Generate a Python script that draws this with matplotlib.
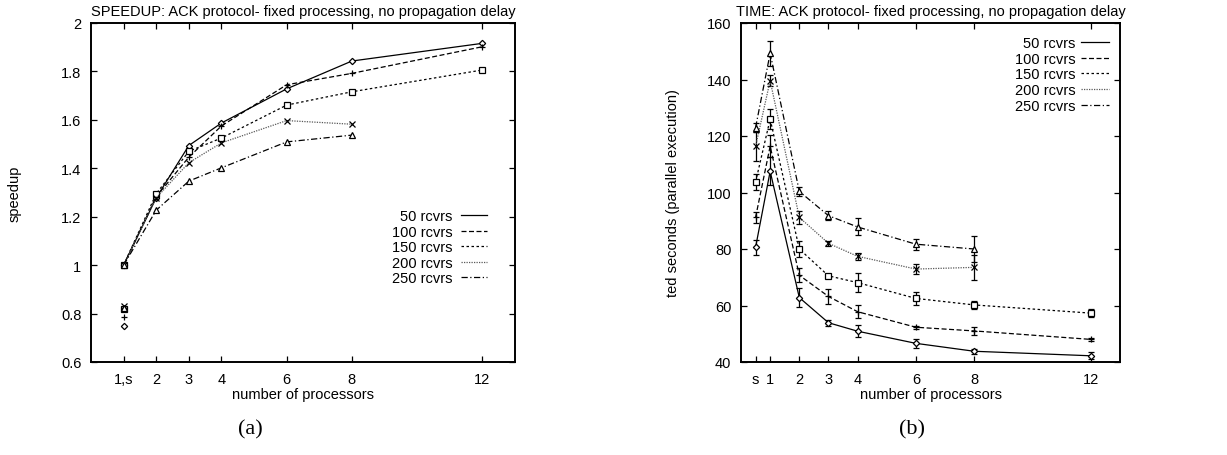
import matplotlib
matplotlib.use("Agg")
import matplotlib.pyplot as plt
from matplotlib.lines import Line2D

plt.rcParams['font.family'] = ['Liberation Sans', 'DejaVu Sans']
plt.rcParams['font.size'] = 10.5

series_labels = ["50 rcvrs", "100 rcvrs", "150 rcvrs", "200 rcvrs", "250 rcvrs"]

# ---- (a) speedup ----
speed_x = [1, 2, 3, 4, 6, 8, 12]
speed_x_short = [1, 2, 3, 4, 6, 8]
speed_50 = [1.0, 1.278, 1.494, 1.587, 1.728, 1.843, 1.916]
speed_100 = [1.0, 1.283, 1.446, 1.575, 1.745, 1.792, 1.902]
speed_150 = [1.0, 1.295, 1.470, 1.525, 1.661, 1.716, 1.806]
speed_200 = [1.0, 1.278, 1.423, 1.505, 1.597, 1.582]
speed_250 = [1.0, 1.227, 1.347, 1.402, 1.509, 1.537]
speed_p1 = [0.750, 0.785, 0.820, 0.830, 0.825]   # parallel 1-proc vs sequential
speed_xticks = [1, 2, 3, 4, 6, 8, 12]
speed_xticklabels = ["1,s", "2", "3", "4", "6", "8", "12"]
speed_yticks = [0.6, 0.8, 1.0, 1.2, 1.4, 1.6, 1.8, 2.0]
speed_yticklabels = ["0.6", "0.8", "1", "1.2", "1.4", "1.6", "1.8", "2"]

# ---- (b) time ----
time_x = [0.5, 1, 2, 3, 4, 6, 8, 12]
time_x_short = [0.5, 1, 2, 3, 4, 6, 8]
time_50 = [80.6, 107.5, 62.8, 53.9, 50.9, 46.6, 43.8, 42.2]
time_50_err = [2.7, 5.0, 3.4, 1.0, 2.2, 1.5, 0.8, 1.3]
time_100 = [91.2, 116.4, 70.7, 63.2, 57.8, 52.3, 51.0, 48.0]
time_100_err = [2.0, 4.0, 2.5, 2.8, 2.3, 0.5, 1.5, 0.5]
time_150 = [103.7, 126.0, 80.0, 70.5, 68.1, 62.5, 60.2, 57.3]
time_150_err = [2.8, 3.5, 2.8, 0.7, 3.3, 2.2, 1.5, 1.5]
time_200 = [116.3, 139.6, 91.2, 82.0, 77.4, 72.9, 73.5]
time_200_err = [5.0, 2.0, 2.3, 0.8, 1.3, 1.8, 4.3]
time_250 = [123.0, 149.3, 100.4, 91.8, 87.8, 81.7, 80.0]
time_250_err = [1.5, 4.5, 1.5, 1.5, 3.0, 2.0, 4.5]
time_xticks = [0.5, 1, 2, 3, 4, 6, 8, 12]
time_xticklabels = ["s", "1", "2", "3", "4", "6", "8", "12"]
time_yticks = [40, 60, 80, 100, 120, 140, 160]

styles = [
    dict(ls='-', color='black', marker='D', ms=3.2, mfc='white'),
    dict(ls=(0, (4, 2)), color='black', marker='+', ms=5, mfc='black'),
    dict(ls=(0, (2, 2)), color='black', marker='s', ms=4, mfc='white'),
    dict(ls=(0, (1, 1)), color='0.35', marker='x', ms=4, mfc='black'),
    dict(ls=(0, (5, 2, 1, 2)), color='black', marker='^', ms=4, mfc='white'),
]

W, H = 1227, 456
fig = plt.figure(figsize=(W / 100, H / 100), dpi=100)
axa = fig.add_axes([91 / W, 93 / H, 424 / W, 339 / H])
axb = fig.add_axes([741 / W, 93 / H, 379 / W, 339 / H])

# (a)
speed_series = [(speed_x, speed_50), (speed_x, speed_100), (speed_x, speed_150),
                (speed_x_short, speed_200), (speed_x_short, speed_250)]
for (xs, ys), st in zip(speed_series, styles):
    axa.plot(xs, ys, ls=st['ls'], color=st['color'], lw=0.9, marker=st['marker'],
             ms=st['ms'], mfc=st['mfc'], mec='black', mew=0.9)
for val, st in zip(speed_p1, styles):
    axa.plot([1], [val], ls='none', marker=st['marker'], ms=st['ms'],
             mfc=st['mfc'], mec='black', mew=0.9)

axa.set_xlim(0, 13)
axa.set_ylim(0.6, 2.0)
axa.set_xticks(speed_xticks)
axa.set_xticklabels(speed_xticklabels)
axa.set_yticks(speed_yticks)
axa.set_yticklabels(speed_yticklabels)
axa.set_title("SPEEDUP: ACK protocol- fixed processing, no propagation delay",
              pad=6, fontsize=10.5)
axa.set_xlabel("number of processors", labelpad=1)
axa.set_ylabel("speedup")
axa.yaxis.set_label_coords(-0.163, 0.5)

# (b)
time_series = [(time_x, time_50, time_50_err), (time_x, time_100, time_100_err),
               (time_x, time_150, time_150_err), (time_x_short, time_200, time_200_err),
               (time_x_short, time_250, time_250_err)]
for (xs, ys, es), st in zip(time_series, styles):
    axb.errorbar(xs, ys, yerr=es, ls=st['ls'], color=st['color'], lw=0.9,
                 marker=st['marker'], ms=st['ms'], mfc=st['mfc'], mec='black', mew=0.9,
                 ecolor='black', elinewidth=0.9, capsize=2.5, capthick=0.9)

axb.set_xlim(0, 13)
axb.set_ylim(40, 160)
axb.set_xticks(time_xticks)
axb.set_xticklabels(time_xticklabels)
axb.set_yticks(time_yticks)
axb.set_title("TIME: ACK protocol- fixed processing, no propagation delay",
              pad=6, fontsize=10.5)
axb.set_xlabel("number of processors", labelpad=1)
axb.set_ylabel("ted seconds (parallel execution)")
axb.yaxis.set_label_coords(-0.16, 0.5)

for ax in (axa, axb):
    ax.tick_params(direction='in', top=True, right=True, length=4, width=0.9,
                   pad=7, labelsize=10.5)
    for sp in ax.spines.values():
        sp.set_linewidth(1.4)

handles = [Line2D([], [], ls=st['ls'], color=st['color'], lw=0.9) for st in styles]
axa.legend(handles, series_labels, loc='upper right', bbox_to_anchor=(0.935, 0.45),
           frameon=False, markerfirst=False, handlelength=1.8, handletextpad=0.6,
           labelspacing=0.1, borderpad=0, borderaxespad=0, fontsize=10.5)
axb.legend(handles, series_labels, loc='upper right', bbox_to_anchor=(0.97, 0.962),
           frameon=False, markerfirst=False, handlelength=1.9, handletextpad=0.35,
           labelspacing=0.12, borderpad=0, borderaxespad=0, fontsize=10.5)

fig.text(250 / W, 1 - 430 / H, "(a)", ha='center', va='center',
         family=['Liberation Serif', 'DejaVu Serif'], fontsize=16)
fig.text(912 / W, 1 - 430 / H, "(b)", ha='center', va='center',
         family=['Liberation Serif', 'DejaVu Serif'], fontsize=16)

fig.savefig("out.png", dpi=100)
